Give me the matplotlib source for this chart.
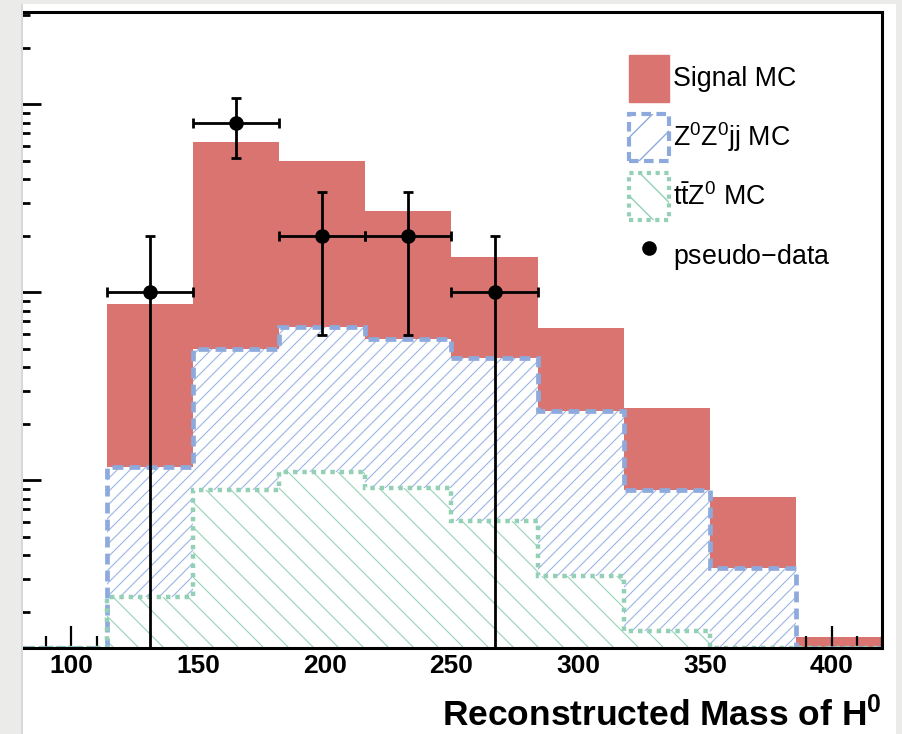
import numpy as np
import matplotlib
matplotlib.use("Agg")
import matplotlib.pyplot as plt
from matplotlib.collections import LineCollection
from matplotlib.transforms import IdentityTransform
from matplotlib.patches import Patch, Rectangle
from matplotlib.lines import Line2D
from matplotlib.ticker import MultipleLocator, LogLocator, NullFormatter

plt.rcParams['font.family'] = ['Liberation Sans', 'DejaVu Sans']
plt.rcParams['mathtext.fontset'] = 'custom'
plt.rcParams['mathtext.rm'] = 'Liberation Sans'
plt.rcParams['mathtext.it'] = 'Liberation Sans:italic'
plt.rcParams['mathtext.bf'] = 'Liberation Sans:bold'

# ---------------- data ----------------
bin_edges = [80, 114, 148, 182, 216, 250, 284, 318, 352, 386, 420]
ttz_mc    = [0, 0.239, 0.888, 1.107, 0.910, 0.608, 0.310, 0.158, 0, 0]
zz_mc     = [0, 0.941, 4.082, 5.453, 4.730, 3.862, 2.030, 0.730, 0.342, 0]
signal_mc = [0, 7.49, 58.03, 43.54, 21.46, 10.93, 4.12, 1.532, 0.473, 0.147]

data_x    = [131, 165, 199, 233, 267]
data_y    = [10, 80, 20, 20, 10]
data_err  = [10, 28.3, 14.1, 14.1, 10]
data_xerr = [17, 17, 17, 17, 17]

legend_labels = ['Signal MC', r'Z$^{0}$Z$^{0}$jj MC', r't$\bar{\mathrm{t}}$Z$^{0}$ MC', 'pseudo$-$data']
xlabel = r'Reconstructed Mass of H$^{\mathbf{0}}$'
xticks_major = [100, 150, 200, 250, 300, 350, 400]

# ---------------- style ----------------
RED = '#d97470'
BLUE = '#8eaadc'
BLUE_H = '#9bb4e2'
GREEN = '#93d0b6'
GREEN_H = '#96d3b9'

W, H = 903, 734
fig = plt.figure(figsize=(W / 100, H / 100), dpi=100)
fig.patch.set_facecolor('white')
ax = fig.add_axes([20.5 / W, (H - 647.5) / H, (882.5 - 20.5) / W, (647.5 - 12.3) / H])

YMIN, YMAX = 0.129, 308.7
ax.set_xlim(bin_edges[0], bin_edges[-1])
ax.set_yscale('log')
ax.set_ylim(YMIN, YMAX)

edges = np.array(bin_edges, float)
ttz = np.array(ttz_mc)
zz_cum = ttz + np.array(zz_mc)
tot = zz_cum + np.array(signal_mc)

def floor(v):
    return np.maximum(v, YMIN)

def hatch(patch, spacing, direction, color, lw, z):
    segs = []
    for c in np.arange(-H - 50, W + H + 50, spacing):
        if direction == '/':
            segs.append([(c, 0), (c + H, H)])
        else:
            segs.append([(c, H), (c + H, 0)])
    lc = LineCollection(segs, colors=color, linewidths=lw,
                        transform=IdentityTransform(), zorder=z)
    ax.add_collection(lc, autolim=False)
    lc.set_clip_path(patch)

# Signal (total stack)
ax.stairs(floor(tot), edges, baseline=YMIN * 0.5, fill=True, color=RED, zorder=1)

# ZZ (cumulative)
pz = ax.stairs(floor(zz_cum), edges, baseline=YMIN * 0.5, fill=True,
               facecolor='white', edgecolor='none', zorder=2)
hatch(pz, 13, '/', BLUE_H, 0.8, 2.1)

# ttZ
pt = ax.stairs(floor(ttz), edges, baseline=YMIN * 0.5, fill=True,
               facecolor='white', edgecolor='none', zorder=3)
hatch(pt, 25, '\\', GREEN_H, 0.8, 3.1)

ax.stairs(floor(zz_cum), edges, baseline=YMIN, fill=False, color=BLUE,
          linewidth=3.4, linestyle=(0, (2.3, 1.3)), zorder=4)
ax.stairs(floor(ttz), edges, baseline=YMIN, fill=False, color=GREEN,
          linewidth=3.2, linestyle=(0, (1.0, 1.1)), zorder=4.5)

# pseudo-data
dy = np.array(data_y, float)
de = np.array(data_err, float)
lower = dy - np.maximum(dy - de, 1e-4)
ax.errorbar(data_x, dy, xerr=data_xerr, yerr=[lower, de], fmt='o', color='black',
            markersize=9.5, elinewidth=2.0, capsize=3.5, capthick=2.0, zorder=6)

# axes styling
for s in ax.spines.values():
    s.set_linewidth(2.2)
    s.set_zorder(7)
ax.xaxis.set_major_locator(MultipleLocator(50))
ax.xaxis.set_minor_locator(MultipleLocator(10))
ax.set_xticks(xticks_major)
ax.yaxis.set_major_locator(LogLocator(base=10, numticks=10))
ax.yaxis.set_minor_locator(LogLocator(base=10, subs=np.arange(2, 10), numticks=20))
ax.yaxis.set_major_formatter(NullFormatter())
ax.yaxis.set_minor_formatter(NullFormatter())
ax.tick_params(axis='x', which='major', direction='in', length=16, width=1.6,
               labelsize=19, pad=5, top=False)
ax.tick_params(axis='x', which='minor', direction='in', length=8.5, width=1.6, top=False)
ax.tick_params(axis='y', which='major', direction='in', length=15, width=2.0, right=False)
ax.tick_params(axis='y', which='minor', direction='in', length=7.5, width=2.0, right=False)
for lab in ax.get_xticklabels():
    lab.set_fontweight('bold')

fig.text(882 / W, (H - 726) / H, xlabel, ha='right', va='baseline',
         fontsize=25.5, fontweight='bold')

# legend
handles = [
    Patch(facecolor=RED, edgecolor=RED),
    Patch(facecolor='white', edgecolor=BLUE, hatch='/', linestyle=(0, (2.3, 1.3)), linewidth=3),
    Patch(facecolor='white', edgecolor=GREEN, hatch='\\', linestyle=(0, (1, 1.1)), linewidth=3),
    Line2D([], [], marker='o', color='black', linestyle='none', markersize=9.5),
]
leg = ax.legend(handles, legend_labels, loc='upper left',
                bbox_to_anchor=(622 / W, (H - 48) / H), bbox_transform=fig.transFigure,
                fontsize=19.3, frameon=True, fancybox=False, framealpha=1,
                edgecolor='white', facecolor='white',
                handlelength=1.5, handleheight=2.32, handletextpad=0.15,
                labelspacing=0.45, borderpad=0.25, borderaxespad=0)
leg.set_zorder(8)

# page border effects
fig.add_artist(Rectangle((0, 0), 22 / W, 1, transform=fig.transFigure,
                         facecolor='#ebebe9', edgecolor='none', zorder=20))
fig.add_artist(Rectangle((21 / W, 0), 2 / W, 1, transform=fig.transFigure,
                         facecolor='#d8d8d6', edgecolor='none', zorder=20))
fig.add_artist(Rectangle((0, (H - 4) / H), 1, 4 / H, transform=fig.transFigure,
                         facecolor='#ebebe9', edgecolor='none', zorder=20))
fig.add_artist(Rectangle((896 / W, 0), 7 / W, 1, transform=fig.transFigure,
                         facecolor='#ebebe9', edgecolor='none', zorder=20))

fig.savefig('out.png', dpi=100, facecolor=fig.get_facecolor())
